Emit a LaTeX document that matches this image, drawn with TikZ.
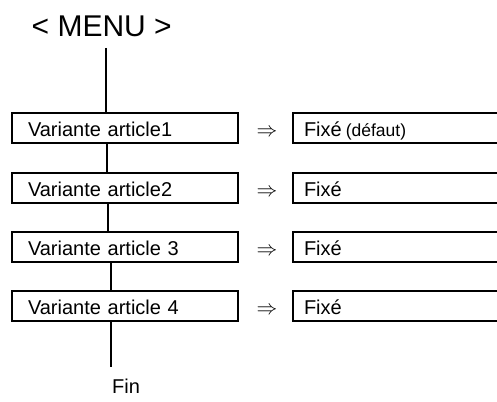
\documentclass[tikz,border=0pt]{standalone}
\usepackage{fontspec}
\setmainfont{Liberation Sans}
\begin{document}
\begin{tikzpicture}[x=1pt,y=-1pt,
  lbox/.style={draw,line width=2pt,minimum height=30pt,text width=194pt,align=left,
     inner xsep=16pt,inner ysep=0pt,text height=17pt,text depth=0pt,
     font=\fontsize{20}{24}\selectfont},
  rbox/.style={draw,line width=2pt,minimum height=30pt,text width=193pt,align=left,
     inner xsep=11pt,inner ysep=0pt,text height=17pt,text depth=0pt,
     font=\fontsize{20}{24}\selectfont},
  arr/.style={anchor=base,inner sep=0pt,font=\fontsize{21}{24}\selectfont},
  conn/.style={line width=2pt},
  lbl/.style={anchor=base,inner sep=0pt,font=\fontsize{20}{24}\selectfont}]
\useasboundingbox (0,0) rectangle (497,401);
\clip (0,0) rectangle (497,401);
\node[anchor=base,inner sep=0pt,font=\fontsize{30}{34}\selectfont] (menu) at (101.7,37) {< MENU >};
\node[lbox] (b1) at (125,128) {Variante article1};
\node[lbox] (b2) at (125,187.5) {Variante article2};
\node[lbox] (b3) at (125,246.5) {Variante article 3};
\node[lbox] (b4) at (125,305.5) {Variante article 4};
\node[rbox] (r1) at (400.5,128) {Fixé\hspace{0.2em}{\fontsize{17.5}{20}\selectfont(défaut)}};
\node[rbox] (r2) at (400.5,187.5) {Fixé};
\node[rbox] (r3) at (400.5,246.5) {Fixé};
\node[rbox] (r4) at (400.5,305.5) {Fixé};
\node[arr] (a1) at (267,136.5) {$\Rightarrow$};
\node[arr] (a2) at (267,196) {$\Rightarrow$};
\node[arr] (a3) at (267,255) {$\Rightarrow$};
\node[arr] (a4) at (267,314) {$\Rightarrow$};
\node[lbl] (fin) at (126,393) {Fin};
\coordinate (c0) at (106,48);
\coordinate (c1) at (106.5,0);
\coordinate (c2) at (107.5,0);
\coordinate (c3) at (110.5,0);
\coordinate (c4) at (110.5,367);
\draw[conn] (c0) -- (c0 |- b1.north);
\draw[conn] (b1.south -| c1) -- (b2.north -| c1);
\draw[conn] (b2.south -| c2) -- (b3.north -| c2);
\draw[conn] (b3.south -| c3) -- (b4.north -| c3);
\draw[conn] (b4.south -| c4) -- (c4);
\end{tikzpicture}
\end{document}
